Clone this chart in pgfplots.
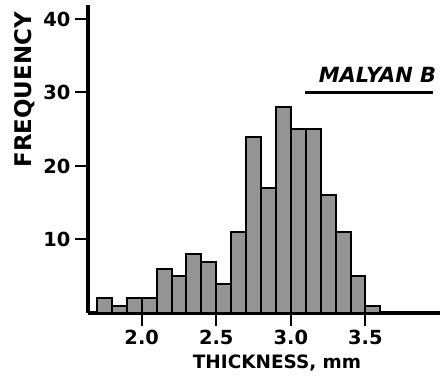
\documentclass[border=0pt]{standalone}
\usepackage{fontspec}
\setmainfont{DejaVu Sans}
\usepackage{pgfplots}
\pgfplotsset{compat=1.18}
\begin{document}
\begin{tikzpicture}
\useasboundingbox (-88bp,-71bp) rectangle (359bp,313bp);
\begin{axis}[
  at={(0,0)}, anchor=south west,
  scale only axis, width=352bp, height=308bp,
  xmin=1.64, xmax=4.0, ymin=0, ymax=41.9,
  axis lines=left,
  axis line style={-, line width=3.5bp, black},
  xtick={2.0,2.5,3.0,3.5},
  ytick={10,20,30,40},
  xticklabels={2.0,2.5,3.0,3.5},
  tick align=outside,
  major tick length=13bp,
  tick style={line width=2bp, black},
  /pgf/number format/assume math mode=true,
  tick label style={font=\bfseries\fontsize{19.5}{19.5}\selectfont},
  xticklabel style={yshift=-1bp},
  yticklabel style={xshift=-1bp},
  xlabel={THICKNESS, mm},
  ylabel={FREQUENCY},
  xlabel style={at={(axis description cs:0.537,-0.162)}, anchor=center, font=\bfseries\fontsize{18.5}{18.5}\selectfont},
  ylabel style={at={(axis description cs:-0.18,0.724)}, anchor=center, rotate=0, font=\bfseries\fontsize{23}{23}\selectfont},
  clip=false,
]
\addplot[ybar interval, fill=black!42, draw=black, line width=2bp] coordinates {
(1.7,2) (1.8,1) (1.9,2) (2.0,2) (2.1,6) (2.2,5) (2.3,8) (2.4,7) (2.5,4) (2.6,11)
(2.7,24) (2.8,17) (2.9,28) (3.0,25) (3.1,25) (3.2,16) (3.3,11) (3.4,5) (3.5,1) (3.6,1)
};
\node[font=\bfseries\itshape\fontsize{21}{21}\selectfont, anchor=base east, inner sep=0pt] at (axis cs:3.975,31.3) {MALYAN B};
\draw[line width=3bp] (axis cs:3.094,30.0) -- (axis cs:3.953,30.0);
\end{axis}
\end{tikzpicture}
\end{document}
